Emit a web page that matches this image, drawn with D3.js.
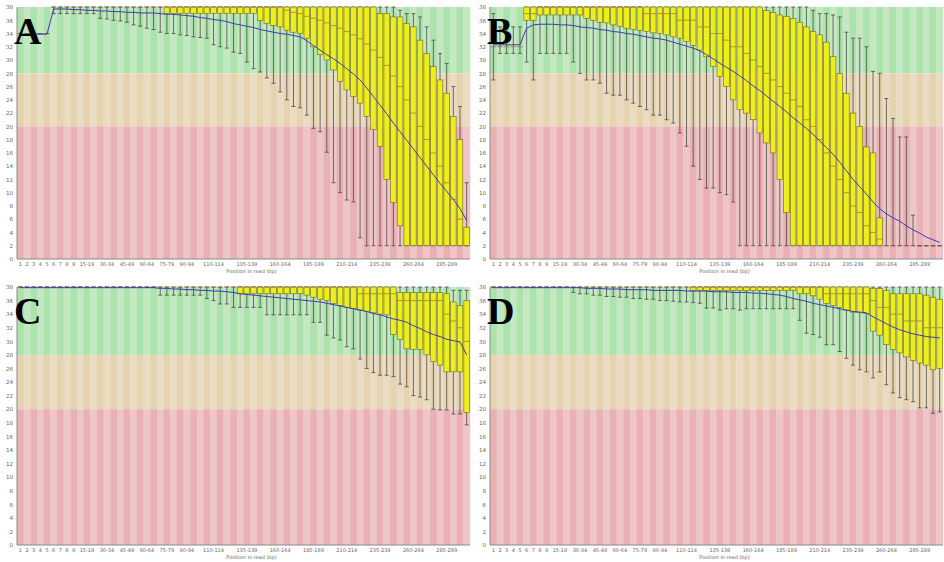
<!DOCTYPE html>
<html>
<head>
<meta charset="utf-8">
<script src="https://cdn.jsdelivr.net/npm/d3@7"></script>
<style>
  body { margin: 0; background: #fff; }
  svg { display: block; }
</style>
</head>
<body>
<div id="chart"></div>
<script>
// position groups along the read (FastQC style)
const categories = ["1","2","3","4","5","6","7","8","9",
  "10-14","15-19","20-24","25-29","30-34","35-39","40-44","45-49","50-54","55-59",
  "60-64","65-69","70-74","75-79","80-84","85-89","90-94","95-99","100-104","105-109",
  "110-114","115-119","120-124","125-129","130-134","135-139","140-144","145-149","150-154","155-159",
  "160-164","165-169","170-174","175-179","180-184","185-189","190-194","195-199","200-204","205-209",
  "210-214","215-219","220-224","225-229","230-234","235-239","240-244","245-249","250-254","255-259",
  "260-264","265-269","270-274","275-279","280-284","285-289","290-294","295-299","300-301"];

const shownTicks = ["1","2","3","4","5","6","7","8","9","15-19","30-34","45-49","60-64","75-79","90-94",
  "110-114","135-139","160-164","185-189","210-214","235-239","260-264","285-289"];

const yTicks = [0,2,4,6,8,10,12,14,16,18,20,22,24,26,28,30,32,34,36,38];

const panelNames = ["A", "B", "C", "D"];

// panel A
const aLow = [34,34,34,34,34, 37,37,37,37,37,37,37, 36.3,36.2,36,35.9,35.7, 35.3,35.1,34.8, 34.6,34.2,
  34,34,33.8,33.7,33.5,33.4,33.3, 32.3,32,31.8, 31.2,31,
  29.7,28.7,28.2,27.3,26.5,25.2,24,23,22.8,21.7,19.7,19.2,16.1,11.5,10,8.9,8.6,3.2,
  2,2,2,2,2,2,2,2,2,2,2,2,2,2,2,2];
const aQ1 = [34,34,34,34,34, 38,38,38,38,38,38,38,38,38,38,38,38,38,38,38,38,38,
  37,37,37,37,37,37,37,37,37,37,37,37,37,37,
  36,35.5,35.2,35,34.5,34.2,34,33.3,32,30.8,30,28.5,26.8,25.5,24.5,23.5,21.5,19.5,17,12,8.5,5,
  2,2,2,2,2,2,2,2,2,2];
const aMed = [34,34,34,34,34,
  38,38,38,38,38,38,38,38,38,38,38,38,38,38,38,38,38,38,38,38,38,38,38,38,38,38,38,38,38,38,38,38,38,38,38,
  37.5,37.2,37,36.6,36.3,36,35.6,35.2,34.8,34.3,33.8,33.2,32.4,31.5,30.4,29.2,27.6,26,24,22,20,18,16,14,11.5,9,6,2];
const aQ3 = [34,34,34,34,34,
  38,38,38,38,38,38,38,38,38,38,38,38,38,38,38,38,38,38,38,38,38,38,38,38,38,38,38,38,38,38,38,38,38,38,38,
  38,38,38,38,38,38,38,38,38,38,38,38,38,38,
  37,37,36.5,36.5,35.5,35,33,31,29,27,25,21.5,18,4.8];
const aHigh = [34,34,34,34,34,
  38,38,38,38,38,38,38,38,38,38,38,38,38,38,38,38,38,38,38,38,38,38,38,38,38,38,38,38,38,38,38,38,38,38,38,
  38,38,38,38,38,38,38,38,38,38,38,38,38,38,38,38,38,
  37.5,37,37,36.5,35,33,31,29.5,26,23,11.5];
const aMean = [33.9,33.9,33.9,33.9,33.9,
  37.7,37.7,37.7,37.6,37.6,37.5,37.5,37.4,37.4,37.3,37.3,37.2,37.2,37.1,37.1,37.1,
  37.0,36.9,36.9,36.8,36.7,36.6,36.4,36.3,36.1,36.0,35.8,35.5,35.3,35.1,34.9,34.6,34.4,34.2,34.0,33.9,33.7,33.5,
  32.9,32.2,31.5,30.8,30.2,29.5,28.7,27.9,27.0,25.8,24.5,23.2,21.9,20.5,19.2,17.9,16.6,15.3,14.0,12.7,11.4,10.2,9.0,7.6,5.8];

// panel B
const bLow = [27,31,31,31,31, 29.7,27, 31,31,31,31,31,
  29.7,28,27,27,26.5,25,24.7,24.7,24,23.5,23,22.5,21.7,21.7,21,20.5,19,17,14,12,10.7,10.7,10,9.7,8.6,
  2,2,2,2,2,2,2,2,2,2,2,2,2,2,2,2,2,2,2,2,2,2,2,2,2,2,2,2,2,2,2];
const bQ1 = [32,32,32,32,32, 36,36, 36.8,36.8,36.8,36.8,36.8,36.8,36.8,
  36.3,36,35.7,35.6,35.3,35.1,34.8,34.6,34.5,34.3,34.1,34.0,33.8,33.5,33.3,32.8,32.2,31.5,30.5,29,27.5,26,24,22.5,22,21,19,17.5,16,12,7,
  2,2,2,2,2,2,2,2,2,2,2,2,2,2,2,2,2,2,2,2,2,2,2];
const bMed = [32,32,32,32,32, 37,37,
  38,38,38,38,38,38,38,38,38,38,38,38,38,38,38,38,
  37,37,37,37,37,36,36,36,35,35,34,34,33,32,32,31,30,29,28,27,26,25,24,23,21,20,18,16,14,12,10,8,7,5,4,3,
  2,2,2,2,2,2,2,2,2];
const bQ3 = [32,32,32,32,32,
  38,38,38,38,38,38,38,38,38,38,38,38,38,38,38,38,38,38,38,38,38,38,38,38,38,38,38,38,38,38,38,38,38,38,38,38,
  37.5,37.2,36.8,36.6,36.3,35.7,35,34.3,33.8,32.7,30.5,28,25,22,20,16.9,16,6.2,
  2,2,2,2,2,2,2,2,2];
const bHigh = [37,35,35,35,35,
  38,38,38,38,38,38,38,38,38,38,38,38,38,38,38,38,38,38,38,38,38,38,38,38,38,38,38,38,38,38,38,38,38,38,38,38,38,38,38,38,38,38,38,
  37.5,37,37,36.8,36.5,34.2,33.3,33.3,32,28.3,28,24.2,21.2,18.4,18.4,6.6,
  2,2,2,2];
const bMean = [32.3,32.3,32.3,32.3,32.3,
  34.8,35.3,35.4,35.4,35.4,35.3,35.3,35.2,35.0,34.9,34.8,34.6,34.5,34.3,34.2,34.0,33.9,33.7,33.5,33.3,33.2,33.0,
  32.7,32.4,32.1,31.8,31.4,30.8,30.2,29.5,28.9,28.3,27.6,26.9,26.1,25.4,24.6,23.8,23.0,22.2,21.3,20.5,19.7,18.8,
  17.8,16.8,15.8,14.6,13.3,12.0,10.9,9.8,8.6,7.6,6.8,6.2,5.7,5.0,4.4,3.9,3.3,2.9,2.5];

// panel C
const cLow = [38,38,38,38,38,38,38,38,38,38,38,38,38,38,38,38,38,38,38,38,38,
  36.8,36.8,36.8,36.8,36.8,36.8,36.8,
  36.3,36,35.5,35.5,35,35,35,35,35,33.9,33.9,33.9,33.9,33.9,33.9,33.9,32.8,32.8,30.9,30.5,30.2,29.2,28.9,
  27.4,26,25.4,25,25,24.8,23.7,23.3,22,21.8,21.4,20,19.9,19.9,19.3,19.3,17.7];
const cQ1 = [38,38,38,38,38,38,38,38,38,38,38,38,38,38,38,38,38,38,38,38,38,38,38,38,38,38,38,38,38,38,38,38,38,
  37,37,37,37,37,37,37,37,37,37,
  36.8,36.5,36.2,36,35.6,35.3,35,34.8,34.6,34.4,34.2,34,33.9,31,30.3,28.9,28.8,28.8,28,27,26.5,25.5,25.5,25.5,19.5];
const cMed = [38,38,38,38,38,38,38,38,38,38,38,38,38,38,38,38,38,38,38,38,38,38,38,38,38,
  38,38,38,38,38,38,38,38,38,38,38,38,38,38,38,38,38,38,38,38,38,38,38,38,38,38,
  37,37,37,37,37,37, 36,36,36,36,36,36,36, 34,33,32,30];
const cQ3 = [38,38,38,38,38,38,38,38,38,38,38,38,38,38,38,38,38,38,38,38,38,38,38,38,38,38,38,38,38,
  38,38,38,38,38,38,38,38,38,38,38,38,38,38,38,38,38,38,38,38,38,38,38,38,38,38,38,38,
  37.2,37.2,37.2,37.2,37.2,37.2,37.2, 37,35.8,35.3,36];
const cHigh = [38,38,38,38,38,38,38,38,38,38,38,38,38,38,38,38,38,38,38,38,38,38,38,38,38,38,38,38,38,38,38,38,38,
  38,38,38,38,38,38,38,38,38,38,38,38,38,38,38,38,38,38,38,38,38,38,38,38,38,38,38,38,38,38,38,38,
  37.5,37.5,37.5];
const cMean = [37.9,37.9,37.9,37.9,37.9,37.9,37.9,37.9,37.9,37.9,37.9,37.9,37.9,37.9,37.9,37.9,37.9,37.9,37.9,37.9,37.9,
  37.8,37.8,37.7,37.7,37.6,37.6,37.5,37.5,37.4,37.4,37.3,37.2,37.0,36.9,36.8,36.7,36.6,36.5,36.4,36.3,36.2,36.1,
  36.0,35.9,35.8,35.6,35.4,35.2,35.0,34.8,34.6,34.4,34.1,33.9,33.6,33.3,33.1,32.8,32.3,31.9,31.4,31.0,30.7,30.3,30.1,29.9,28.0];

// panel D
const dLow = [38,38,38,38,38,38,38,38,38,38,38,38,
  37.2,37,37,36.8,36.8,36.6,36.6,36.5,36.5,36.3,36.3,36.2,36.2,36,36,35.9,35.8,35.8,35.7,35.6,
  34.9,34.9,34.6,34.8,34.8,34.6,34.8,34.8,34.8,34.8,34.8,34.8,34.8,34.8,
  33.1,31.2,31,30.6,29.5,29.5,28.5,27.5,26.5,25.8,25.5,24.6,25.5,23.6,22.4,21.7,21.4,21.1,20.2,20.2,19.4,19.6];
const dQ1 = [38,38,38,38,38,38,38,38,38,38,38,38,38,38,38,38,38,38,38,38,38,38,38,38,38,38,38,38,38,38,
  37.5,37.5,37.5,37.5,37.5,37.5,37.5,37.5,37.5,37.5,37.5,37.5,37.5,37.5,37.5,37.5,
  37,37,36.7,36.2,35.6,35.3,35,34.6,34.3,34.2,34.1,31.5,30.9,29.5,28.8,28.3,27.7,27.2,26.8,26.5,25.8,26];
const dMed = [38,38,38,38,38,38,38,38,38,38,38,38,38,38,38,38,38,38,38,38,38,38,38,38,38,
  38,38,38,38,38,38,38,38,38,38,38,38,38,38,38,38,38,38,38,38,38,38,38,38,38,
  37,37,37,37,37,37,37, 36,35,35,34,34,33,33,33,32,32,32];
const dQ3 = [38,38,38,38,38,38,38,38,38,38,38,38,38,38,38,38,38,38,38,38,38,38,38,38,38,38,38,38,38,
  38,38,38,38,38,38,38,38,38,38,38,38,38,38,38,38,38,38,38,38,38,38,38,38,38,38,38,38,
  37.8,37.8,37.5,37,37,37,37,37,36.8,36.5,36.2];
const dHigh = [38,38,38,38,38,38,38,38,38,38,38,38,38,38,38,38,38,38,38,38,38,38,38,38,38,38,38,38,38,38,38,38,38,38,
  38,38,38,38,38,38,38,38,38,38,38,38,38,38,38,38,38,38,38,38,38,38,38,38,38,38,38,38,38,38,38,38,38,38];
const dMean = [37.9,37.9,37.9,37.9,37.9,37.9,37.9,37.9,37.9,37.9,37.9,37.9,
  37.9,37.9,37.8,37.8,37.8,37.7,37.7,37.7,37.6,37.6,37.6,37.6,37.5,37.5,37.5,37.5,37.5,37.4,37.4,37.4,37.4,
  37.3,37.3,37.3,37.2,37.2,37.2,37.1,37.1,37.0,36.9,36.8,36.6,36.3,36.1,35.9,35.6,35.4,35.2,35.0,34.8,34.6,
  34.4,34.3,34.2,33.6,33.1,32.6,32.1,31.7,31.4,31.1,30.9,30.7,30.6,30.5];

const series = [
  {low: aLow, q1: aQ1, med: aMed, q3: aQ3, high: aHigh, mean: aMean},
  {low: bLow, q1: bQ1, med: bMed, q3: bQ3, high: bHigh, mean: bMean},
  {low: cLow, q1: cQ1, med: cMed, q3: cQ3, high: cHigh, mean: cMean},
  {low: dLow, q1: dQ1, med: dMed, q3: dQ3, high: dHigh, mean: dMean}
];

// layout of the four panels
const layout = [
  {left: 17, top: 7, bottom: 259},
  {left: 490, top: 7, bottom: 259},
  {left: 17, top: 287, bottom: 545},
  {left: 490, top: 287, bottom: 545}
];
const plotWidth = 453;

const zones = [
  {from: 28, to: 38, light: "#c4e8c1", dark: "#ace2ac"},
  {from: 20, to: 28, light: "#eadcc2", dark: "#e6d4b0"},
  {from: 0, to: 20, light: "#eec6c8", dark: "#e9b0b5"}
];

const svg = d3.select("#chart").append("svg")
  .attr("width", 944)
  .attr("height", 562)
  .style("background", "white");

function drawPanel(name, s, p) {
  let x = d3.scaleBand().domain(categories).range([p.left, p.left + plotWidth]);
  let y = d3.scaleLinear().domain([0, 38]).range([p.bottom, p.top]);
  let bw = x.bandwidth();
  let g = svg.append("g");

  // striped quality zones
  zones.forEach(z => {
    g.selectAll(null)
      .data(categories)
      .enter().append("rect")
      .attr("x", d => x(d))
      .attr("y", y(z.to))
      .attr("width", bw + 0.3)
      .attr("height", y(z.from) - y(z.to))
      .attr("fill", (d, i) => i % 2 ? z.light : z.dark);
  });

  let rows = categories.map((c, i) => ({
    c: c, low: s.low[i], q1: s.q1[i], med: s.med[i], q3: s.q3[i], high: s.high[i], mean: s.mean[i]
  }));
  let cx = d => x(d.c) + bw / 2;

  // whiskers
  g.selectAll(null).data(rows).enter().append("line")
    .attr("x1", cx).attr("x2", cx)
    .attr("y1", d => y(d.high)).attr("y2", d => y(d.low))
    .attr("stroke", "#4a4a4a").attr("stroke-width", 0.8);
  ["low", "high"].forEach(k => {
    g.selectAll(null).data(rows).enter().append("line")
      .attr("x1", d => cx(d) - bw * 0.3).attr("x2", d => cx(d) + bw * 0.3)
      .attr("y1", d => y(d[k])).attr("y2", d => y(d[k]))
      .attr("stroke", "#4a4a4a").attr("stroke-width", 0.8);
  });

  // boxes
  g.selectAll(null).data(rows).enter().append("rect")
    .attr("x", d => cx(d) - bw * 0.42)
    .attr("y", d => y(d.q3))
    .attr("width", bw * 0.84)
    .attr("height", d => y(d.q1) - y(d.q3))
    .attr("fill", "#eeee1c")
    .attr("stroke", "#6a6a2a")
    .attr("stroke-width", 0.6);

  // medians
  g.selectAll(null).data(rows).enter().append("line")
    .attr("x1", d => cx(d) - bw * 0.42).attr("x2", d => cx(d) + bw * 0.42)
    .attr("y1", d => y(d.med)).attr("y2", d => y(d.med))
    .attr("stroke", "#9a5a30").attr("stroke-width", 0.6);

  // mean line
  g.append("path")
    .datum(rows)
    .attr("d", d3.line().x(cx).y(d => y(d.mean)))
    .attr("fill", "none")
    .attr("stroke", "#3c3cb0")
    .attr("stroke-width", 1);

  // axis frame
  g.append("line")
    .attr("x1", p.left).attr("x2", p.left).attr("y1", p.top).attr("y2", p.bottom)
    .attr("stroke", "#8a8a8a");
  g.append("line")
    .attr("x1", p.left).attr("x2", p.left + plotWidth).attr("y1", p.bottom).attr("y2", p.bottom)
    .attr("stroke", "#8a8a8a");

  let yAxis = g.append("g")
    .attr("transform", "translate(" + p.left + ",0)")
    .call(d3.axisLeft(y).tickValues(yTicks).tickSize(0).tickPadding(4));
  yAxis.select(".domain").remove();
  yAxis.selectAll("text")
    .style("font-family", "DejaVu Sans, sans-serif")
    .style("font-size", "5.5px")
    .attr("fill", "#666");

  let xAxis = g.append("g")
    .attr("transform", "translate(0," + p.bottom + ")")
    .call(d3.axisBottom(x).tickValues(shownTicks).tickSize(0).tickPadding(3));
  xAxis.select(".domain").remove();
  xAxis.selectAll("text")
    .style("font-family", "DejaVu Sans, sans-serif")
    .style("font-size", "5px")
    .attr("fill", "#666");

  g.append("text")
    .attr("x", p.left + plotWidth / 2 + 8)
    .attr("y", p.bottom + 14)
    .attr("text-anchor", "middle")
    .style("font-family", "DejaVu Sans, sans-serif")
    .style("font-size", "5px")
    .attr("fill", "#666")
    .text("Position in read (bp)");

  // panel letter
  g.append("text")
    .attr("x", p.left - 3)
    .attr("y", p.top + 37)
    .style("font-family", "Liberation Serif, serif")
    .style("font-weight", "bold")
    .style("font-size", "38px")
    .attr("fill", "#000")
    .text(name);
}

panelNames.forEach((n, i) => drawPanel(n, series[i], layout[i]));
</script>
</body>
</html>
